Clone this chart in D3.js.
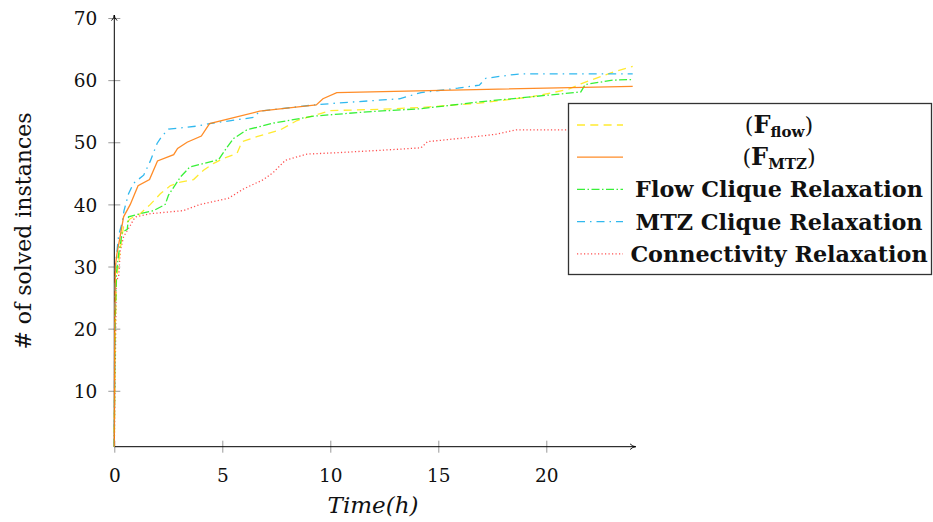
<!DOCTYPE html>
<html>
<head>
<meta charset="utf-8">
<script src="https://cdn.jsdelivr.net/npm/d3@7"></script>
<style>
  body { margin: 0; background: #fff; }
  svg text { font-family: "DejaVu Serif", serif; fill: #111; }
</style>
</head>
<body>
<svg id="chart" width="933" height="522"></svg>
<script>
// series data, [time (h), # solved]
var fFlow = [[0,1],[0.03,18],[0.1,28],[0.25,32],[0.35,34.8],[0.43,36.4],[0.74,37.7],[1.2,38.5],[1.67,40],[2.13,41.7],[2.59,43],[3.06,43.6],[3.67,44],[4.13,45.5],[4.6,46.6],[5.06,47.4],[5.68,48.2],[5.91,50.1],[6.6,50.9],[7.69,52],[8.46,53.5],[9.54,54.6],[10,55.1],[12.3,55.3],[14.2,55.6],[16.9,56.3],[19.3,57.3],[21,58.5],[21.6,59.4],[23.1,61.3],[24,62.2]];
var fMtz = [[0,1],[0.02,20],[0.05,30],[0.12,32],[0.28,35],[0.43,38],[0.74,40],[1.1,43],[1.63,44],[2.0,47],[2.75,48],[2.93,49],[3.37,50],[4.03,51],[4.41,53],[6.73,55],[9.35,56],[9.66,57],[10.3,58],[24,59]];
var flowClique = [[0,1],[0.03,20],[0.1,29],[0.2,32],[0.3,34],[0.36,35.5],[0.6,36],[0.66,38],[1.2,38.5],[1.82,39],[2.36,40],[2.51,41.5],[3.06,44.4],[3.49,46],[4.83,47.2],[5.22,49.2],[5.52,50.6],[6.14,52],[7.38,53.1],[9.23,54.2],[11.7,54.9],[14.2,55.4],[16.9,56.5],[21.6,58.1],[21.8,59.3],[23.1,60],[24,60.1]];
var mtzClique = [[0,1],[0.02,22],[0.05,30],[0.2,35],[0.36,37],[0.45,39],[0.66,41.7],[0.89,43.4],[1.36,44.7],[1.67,47],[1.98,49.8],[2.21,51],[2.51,52.1],[3.83,52.6],[4.41,53],[6.45,54],[6.73,55],[9.23,56],[10.3,56.3],[13.2,57],[14.2,58],[15.9,58.7],[16.9,59.2],[17.2,60.3],[18.5,60.9],[18.9,61],[24,61]];
var connectivity = [[0,1],[0.05,15],[0.07,21],[0.09,27.8],[0.2,28.3],[0.28,32.6],[0.43,34.8],[0.74,36.6],[0.9,37.6],[1.0,38],[1.67,38.5],[3.2,39],[3.98,40],[5.29,41],[5.99,42.5],[6.91,44],[7.38,45.2],[7.92,47.1],[8.92,48.1],[10.2,48.3],[12.3,48.7],[14.2,49.1],[14.5,50.1],[16.2,50.7],[17.7,51.3],[18.6,52],[24,52]];

var xTicks = [0, 5, 10, 15, 20];
var yTicks = [10, 20, 30, 40, 50, 60, 70];

var svg = d3.select("#chart");
var margin = {left: 114.3, top: 18, right: 300.3, bottom: 75.3};
var W = 933 - margin.left - margin.right;
var H = 522 - margin.top - margin.bottom;

var x = d3.scaleLinear().domain([0, 24]).range([0, W]);
var y = d3.scaleLinear().domain([1, 70]).range([H, 0]);

var defs = svg.append("defs");
defs.append("marker").attr("id", "arr")
  .attr("viewBox", "0 0 10 10").attr("refX", 9).attr("refY", 5)
  .attr("markerWidth", 7).attr("markerHeight", 7).attr("markerUnits", "userSpaceOnUse")
  .attr("orient", "auto")
  .append("path").attr("d", "M1,1 Q5,5 9,5 Q5,5 1,9").attr("fill", "none").attr("stroke", "#000").attr("stroke-width", 1.3);

var g = svg.append("g").attr("transform", "translate(" + margin.left + "," + margin.top + ")");

// x axis
var gx = g.append("g").attr("transform", "translate(0," + H + ")")
  .call(d3.axisBottom(x).tickValues(xTicks).tickSize(6).tickFormat(d3.format("d")));
gx.select(".domain").remove();
gx.selectAll(".tick line").attr("y1", -6).attr("y2", 6).attr("stroke", "#999");
gx.selectAll(".tick text").attr("y", 0).attr("dy", 35).style("font-size", "18.5px").style("font-family", "'DejaVu Serif', serif");

// y axis
var gy = g.append("g")
  .call(d3.axisLeft(y).tickValues(yTicks).tickSize(6).tickFormat(d3.format("d")));
gy.select(".domain").remove();
gy.selectAll(".tick line").attr("x1", -6).attr("x2", 6).attr("stroke", "#999");
gy.selectAll(".tick text").attr("x", -17).attr("dy", "0.36em").style("font-size", "18.5px").style("font-family", "'DejaVu Serif', serif");

g.append("line").attr("x1", 0).attr("x2", W + 3).attr("y1", H).attr("y2", H)
  .attr("stroke", "#000").attr("stroke-width", 1).attr("marker-end", "url(#arr)");
g.append("line").attr("x1", 0).attr("x2", 0).attr("y1", H).attr("y2", -3)
  .attr("stroke", "#000").attr("stroke-width", 1).attr("marker-end", "url(#arr)");

var series = [
  {data: connectivity, color: "#ff3030", dash: "1.2,2.3", op: 0.85},
  {data: fFlow, color: "#ffe81a", dash: "8,5.3", op: 0.9},
  {data: flowClique, color: "#22ee22", dash: "8,2.5,1.5,2.5", op: 0.9},
  {data: mtzClique, color: "#1ab0ec", dash: "8,5,1.5,5", op: 0.9},
  {data: fMtz, color: "#ff8010", dash: null, op: 0.9}
];

var line = d3.line().x(function (d) { return x(d[0]); }).y(function (d) { return y(d[1]); });

g.selectAll("path.series").data(series).enter().append("path")
  .attr("class", "series")
  .attr("d", function (s) { return line(s.data); })
  .attr("fill", "none")
  .attr("stroke", function (s) { return s.color; })
  .attr("stroke-opacity", function (s) { return s.op; })
  .attr("stroke-width", 1.3)
  .attr("stroke-dasharray", function (s) { return s.dash; });

// axis labels
svg.append("text").attr("x", 373).attr("y", 513).attr("text-anchor", "middle")
  .style("font-size", "23px").style("font-style", "italic").text("Time(h)");
svg.append("text").attr("transform", "translate(31,231) rotate(-90)").attr("text-anchor", "middle")
  .style("font-size", "22px").text("# of solved instances");

// legend
var lg = svg.append("g");
lg.append("rect").attr("x", 568.5).attr("y", 103.5).attr("width", 363).attr("height", 171)
  .attr("fill", "#fff").attr("stroke", "#333").attr("stroke-width", 1.3);

var legendItems = [
  {s: series[1], label: ["(F", "flow", ")"]},
  {s: series[4], label: ["(F", "MTZ", ")"]},
  {s: series[2], label: ["Flow Clique Relaxation"]},
  {s: series[3], label: ["MTZ Clique Relaxation"]},
  {s: series[0], label: ["Connectivity Relaxation"]}
];

legendItems.forEach(function (it, i) {
  var yy = 125 + i * 32.2;
  lg.append("line").attr("x1", 577).attr("x2", 623).attr("y1", yy).attr("y2", yy)
    .attr("stroke", it.s.color).attr("stroke-opacity", it.s.op).attr("stroke-width", 1.3)
    .attr("stroke-dasharray", it.s.dash);
  var t = lg.append("text").attr("x", 779).attr("y", yy + 8).attr("text-anchor", "middle")
    .style("font-weight", "bold").style("font-size", "22.3px");
  if (it.label.length === 1) {
    t.text(it.label[0]);
  } else {
    t.append("tspan").style("font-weight", "normal").text("(");
    t.append("tspan").style("font-size", "24px").text("F");
    t.append("tspan").attr("dy", 4).style("font-size", "15px").text(it.label[1]);
    t.append("tspan").attr("dy", -4).style("font-weight", "normal").text(")");
  }
});
</script>
</body>
</html>
